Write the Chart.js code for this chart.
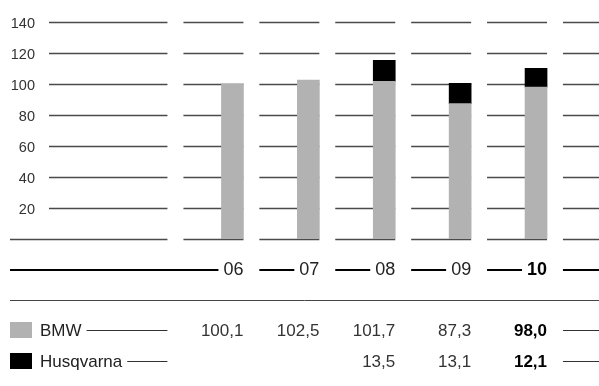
<!DOCTYPE html>
<html>
<head>
<meta charset="utf-8">
<script src="https://cdn.jsdelivr.net/npm/chart.js@4"></script>
<style>
  body { margin: 0; background: #fff; }
</style>
</head>
<body>
<canvas id="chart" width="599" height="386"></canvas>
<script>
// Datos
const years = ['06', '07', '08', '09', '10'];
const bmw = [100.1, 102.5, 101.7, 87.3, 98.0];
const husqvarna = [null, null, 13.5, 13.1, 12.1];
const yTicks = [20, 40, 60, 80, 100, 120, 140];
const seriesNames = ['BMW', 'Husqvarna'];
const seriesColors = ['#b2b2b2', '#000000'];

const FONT = '"Liberation Sans", Arial, Helvetica, sans-serif';
const BAR_W = 22;

function fmt(v) {
    return v.toFixed(1).replace('.', ',');
}

// Plugin para la rejilla partida, el eje y la tabla de valores
const tablePlugin = {
    id: 'annualTable',
    beforeDatasetsDraw(chart) {
        const ctx = chart.ctx, x = chart.scales.x, y = chart.scales.y;
        const step = x.getPixelForValue(1) - x.getPixelForValue(0);
        const c0 = x.getPixelForValue(0);

        ctx.save();
        ctx.strokeStyle = '#4a4a4a';
        ctx.lineWidth = 1.3;
        ctx.fillStyle = '#333';
        ctx.font = '14.5px ' + FONT;
        ctx.textAlign = 'right';
        ctx.textBaseline = 'middle';

        [0].concat(yTicks).forEach(t => {
            const py = Math.round(y.getPixelForValue(t)) + 0.5;
            if (t !== 0) ctx.fillText(String(t), 35, py + 1);
            ctx.beginPath();
            ctx.moveTo(t === 0 ? 10 : 49, py);
            ctx.lineTo(c0 - 65, py);
            for (let i = 0; i <= years.length; i++) {
                const c = c0 + i * step;
                ctx.moveTo(c - 49, py);
                ctx.lineTo(Math.min(c + BAR_W / 2, chart.width), py);
            }
            ctx.stroke();
        });
        ctx.restore();
    },
    afterDatasetsDraw(chart) {
        const ctx = chart.ctx, x = chart.scales.x;
        const step = x.getPixelForValue(1) - x.getPixelForValue(0);
        const c0 = x.getPixelForValue(0);
        const last = years.length - 1;

        ctx.save();
        ctx.textBaseline = 'middle';
        ctx.textAlign = 'right';

        // Fila de años con línea gruesa
        const axisY = 270;
        ctx.strokeStyle = '#000';
        ctx.lineWidth = 2;
        years.forEach((yr, i) => {
            const c = x.getPixelForValue(i);
            ctx.font = (i === last ? 'bold ' : '') + '18px ' + FONT;
            ctx.fillStyle = i === last ? '#000' : '#222';
            const w = ctx.measureText(yr).width;
            ctx.fillText(yr, c + BAR_W / 2, axisY);
            ctx.beginPath();
            ctx.moveTo(i === 0 ? 10 : c - 49, axisY);
            ctx.lineTo(c + BAR_W / 2 - w - 5, axisY);
            ctx.stroke();
        });
        ctx.beginPath();
        ctx.moveTo(c0 + years.length * step - 49, axisY);
        ctx.lineTo(chart.width, axisY);
        ctx.stroke();

        // Línea separadora
        ctx.strokeStyle = '#444';
        ctx.lineWidth = 1;
        ctx.beginPath();
        ctx.moveTo(10, 300.5);
        ctx.lineTo(chart.width, 300.5);
        ctx.stroke();

        // Filas de la tabla
        const rows = [bmw, husqvarna];
        const rowY = [330, 361];
        rows.forEach((vals, r) => {
            const ry = rowY[r];
            ctx.fillStyle = seriesColors[r];
            ctx.fillRect(10, ry - 8, 22, 16);

            ctx.font = '17px ' + FONT;
            ctx.fillStyle = '#222';
            ctx.textAlign = 'left';
            ctx.fillText(seriesNames[r], 40, ry + 1);
            const tw = ctx.measureText(seriesNames[r]).width;

            ctx.strokeStyle = '#333';
            ctx.lineWidth = 1;
            ctx.beginPath();
            ctx.moveTo(40 + tw + 5, ry + 0.5);
            ctx.lineTo(c0 - 65, ry + 0.5);
            ctx.moveTo(c0 + years.length * step - 49, ry + 0.5);
            ctx.lineTo(chart.width, ry + 0.5);
            ctx.stroke();

            ctx.textAlign = 'right';
            vals.forEach((v, i) => {
                if (v === null) return;
                const c = x.getPixelForValue(i);
                ctx.font = (i === last ? 'bold ' : '') + '17px ' + FONT;
                ctx.fillStyle = i === last ? '#000' : '#333';
                ctx.fillText(fmt(v), c + BAR_W / 2, ry + 1);
            });
        });
        ctx.restore();
    }
};

new Chart(document.getElementById('chart'), {
    type: 'bar',
    data: {
        labels: years,
        datasets: [{
            label: seriesNames[0],
            data: bmw,
            backgroundColor: seriesColors[0],
            barThickness: BAR_W
        }, {
            label: seriesNames[1],
            data: husqvarna,
            backgroundColor: seriesColors[1],
            barThickness: BAR_W
        }]
    },
    options: {
        responsive: false,
        animation: false,
        layout: {
            padding: { left: 194.5, right: 25, top: 22, bottom: 147 }
        },
        plugins: {
            legend: { display: false },
            tooltip: { enabled: false }
        },
        scales: {
            x: { stacked: true, display: false },
            y: { stacked: true, display: false, min: 0, max: 140 }
        }
    },
    plugins: [tablePlugin]
});
</script>
</body>
</html>
